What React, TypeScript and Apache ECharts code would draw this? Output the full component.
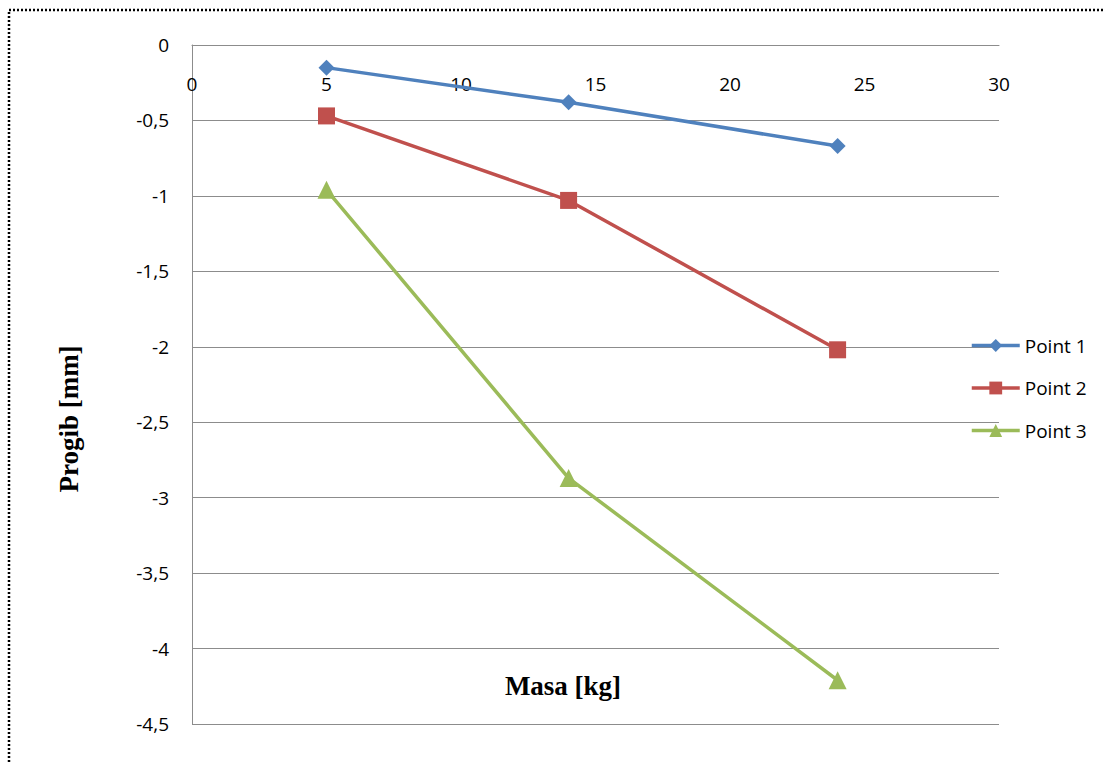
import React, { useEffect, useRef } from "react";
import * as echarts from "echarts";

const masses = [5, 14, 24];
const point1 = [-0.15, -0.38, -0.67];
const point2 = [-0.47, -1.03, -2.02];
const point3 = [-0.96, -2.87, -4.21];
const seriesNames = ["Point 1", "Point 2", "Point 3"];
const xTitle = "Masa [kg]";
const yTitle = "Progib [mm]";

const labelFont = "'Open Sans', 'Noto Sans', sans-serif";
const titleFont = "'Liberation Serif', 'DejaVu Serif', serif";

export default function App() {
  const ref = useRef<HTMLDivElement>(null);
  useEffect(() => {
    if (!ref.current) return;
    const chart = echarts.init(ref.current, null, { renderer: "svg" });
    const mk = (vals: number[]) => masses.map((m, i) => [m, vals[i]]);
    const colors = ["#4F81BD", "#C0504D", "#9BBB59"];
    const symbols = ["diamond", "rect", "triangle"];
    const sizes = [16, 17, 18];
    const data = [point1, point2, point3];
    chart.setOption({
      animation: false,
      backgroundColor: "#ffffff",
      grid: {
        left: 192,
        top: 45,
        right: 106,
        bottom: 39,
        containLabel: false,
        outerBoundsMode: "none",
      },
      xAxis: {
        type: "value",
        position: "top",
        min: 0,
        max: 30,
        interval: 5,
        axisLine: { onZero: false, lineStyle: { color: "#8c8c8c", width: 1 } },
        axisTick: { show: false },
        splitLine: { show: false },
        axisLabel: {
          inside: true,
          margin: 29,
          color: "#000",
          fontFamily: labelFont,
          fontSize: 19,
        },
      },
      yAxis: {
        type: "value",
        min: -4.5,
        max: 0,
        interval: 0.5,
        axisLine: { show: true, lineStyle: { color: "#8c8c8c", width: 1 } },
        axisTick: { show: false },
        splitLine: { show: true, lineStyle: { color: "#8c8c8c", width: 1 } },
        axisLabel: {
          margin: 23,
          color: "#000",
          fontFamily: labelFont,
          fontSize: 19,
          formatter: (v: number) => String(v).replace(".", ","),
        },
      },
      legend: {
        orient: "vertical",
        left: 970,
        top: 336,
        padding: 0,
        itemWidth: 48,
        itemHeight: 16,
        itemGap: 23.5,
        lineStyle: { width: 3.5 },
        textStyle: { color: "#000", fontFamily: labelFont, fontSize: 19 },
        data: seriesNames,
      },
      series: seriesNames.map((name, i) => ({
        name,
        type: "line",
        data: mk(data[i]),
        symbol: symbols[i],
        symbolSize: sizes[i],
        itemStyle: { color: colors[i] },
        lineStyle: { color: colors[i], width: 3.5 },
        z: 3 + i,
      })),
      graphic: [
        {
          type: "rect",
          shape: { x: 9, y: 10, width: 1120, height: 780 },
          style: { fill: "none", stroke: "#000", lineWidth: 2.5, lineDash: [2, 2] },
          silent: true,
        },
        {
          type: "text",
          x: 563,
          y: 686,
          style: {
            text: xTitle,
            font: `bold 27px ${titleFont}`,
            fill: "#000",
            align: "center",
            verticalAlign: "middle",
          },
        },
        {
          type: "text",
          x: 69,
          y: 419,
          rotation: Math.PI / 2,
          style: {
            text: yTitle,
            font: `bold 27px ${titleFont}`,
            fill: "#000",
            align: "center",
            verticalAlign: "middle",
          },
        },
      ],
    });
    return () => chart.dispose();
  }, []);
  return (
    <div
      ref={ref}
      style={{ position: "absolute", left: 0, top: 0, width: 1105, height: 763, background: "#fff" }}
    />
  );
}
